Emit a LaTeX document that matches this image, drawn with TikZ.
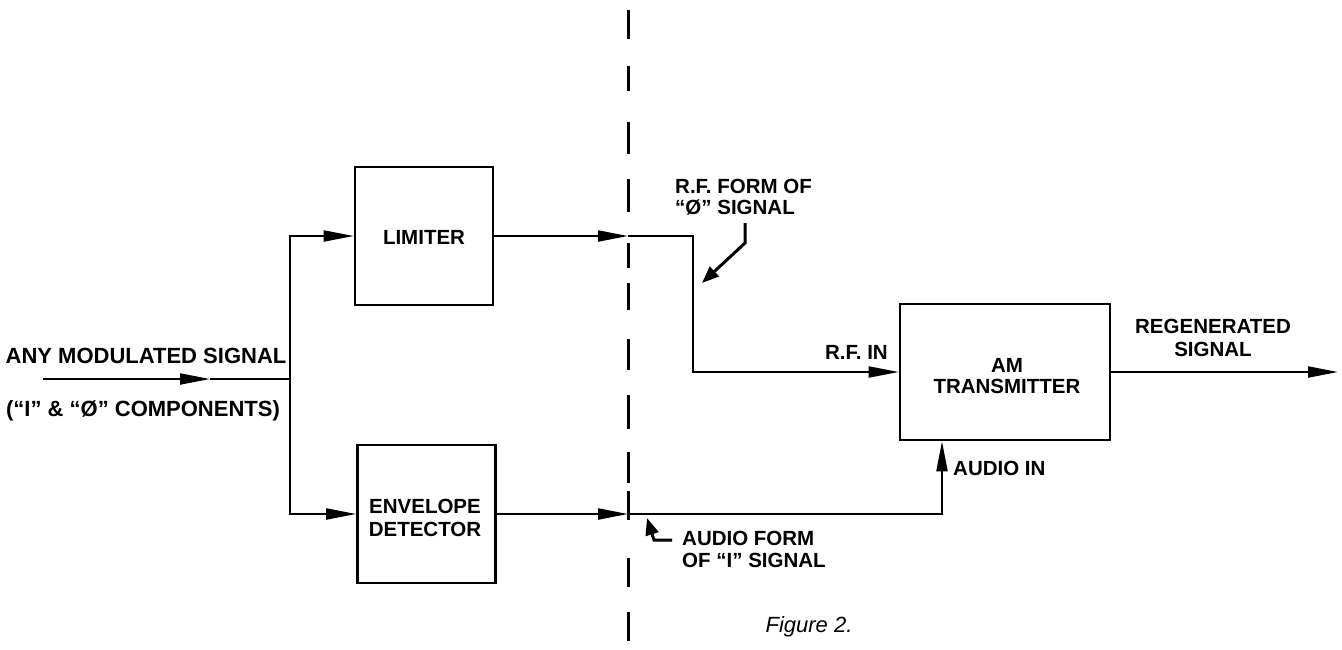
\documentclass[tikz,border=0pt]{standalone}
\usepackage{fontspec}
\setmainfont{Liberation Sans}
\usetikzlibrary{arrows.meta}
\begin{document}
\begin{tikzpicture}[x=1pt,y=-1pt,
  box/.style={draw, line width=2.6pt, minimum width=138pt, minimum height=138pt, inner sep=0pt},
  wire/.style={line width=2pt},
  arr/.style={-{Triangle[length=30pt,width=11pt]}},
  ptr/.style={line width=3pt, -{Triangle[length=17pt,width=13pt]}},
  lbl/.style={font=\fontsize{20.5}{21.5}\selectfont\bfseries, inner sep=0pt},
  lblw/.style={font=\fontsize{22}{23}\selectfont\bfseries, inner sep=0pt},
  fig/.style={font=\fontsize{22}{24}\selectfont\itshape, inner sep=0pt}]
\fill[white] (0,0) rectangle (1342,649);
\useasboundingbox (0,0) rectangle (1342,649);

% boxes
\node[box] (lim) at (424,236) {};
\node[box] (env) at (426.5,514) {};
\node[box, minimum width=210pt, minimum height=136pt] (am) at (1005,372) {};

% box texts
\node[lbl, anchor=base] (limt) at (424,244) {LIMITER};
\node[lbl, anchor=base] (envt1) at (425,513) {ENVELOPE};
\node[lbl, anchor=base] (envt2) at (425,536) {DETECTOR};
\node[lbl, anchor=base] (amt1) at (1007,372) {AM};
\node[lbl, anchor=base] (amt2) at (1007,393) {TRANSMITTER};

% dashed separator
\coordinate (dtop) at (628,10);
\coordinate (dbot) at (628,641);
\draw[line width=3pt, dash pattern=on 29pt off 27pt on 25pt off 31pt on 32pt off 25pt on 33pt off 31pt on 25pt off 15pt on 27pt off 29pt on 31pt off 25pt on 34pt off 23pt on 31pt off 8pt on 29pt off 38pt on 29pt off 25pt on 29pt off 50pt] (dtop) -- (dbot);

% input
\coordinate (in0) at (43,379);
\coordinate (inA) at (210,379);
\coordinate (j) at (290,379);
\draw[wire,arr] (in0) -- (inA);
\draw[wire] (inA) -- (j);
\draw[wire,arr] (j) |- (lim.west);
\draw[wire,arr] (j) |- (env.west);

% limiter path
\coordinate (c1) at (628,236);
\coordinate (rfk) at (693,236);
\draw[wire,arr] (lim.east) -- (c1);
\draw[wire,arr] (c1) -- (rfk) |- (am.west);

% envelope path
\coordinate (c2) at (628,514);
\coordinate (ai) at (942,514);
\draw[wire,arr] (env.east) -- (c2);
\draw[wire,arr] (c2) -- (ai) -- (ai |- am.south);

% output
\coordinate (out) at (1338,372);
\draw[wire,arr] (am.east) -- (out);

% pointers
\coordinate (p1a) at (745,223);
\coordinate (p1b) at (745,243);
\coordinate (p1c) at (702,283);
\draw[ptr] (p1a) -- (p1b) -- (p1c);
\coordinate (p2a) at (672,540);
\coordinate (p2b) at (654,540);
\coordinate (p2c) at (647,518);
\draw[ptr] (p2a) -- (p2b) -- (p2c);

% labels
\node[lblw, anchor=base] (t1) at (146,363) {ANY MODULATED SIGNAL};
\node[lblw, anchor=base] (t2) at (143,416) {(“I” \& “Ø” COMPONENTS)};
\node[lbl, anchor=base west] (rf1) at (675,193) {R.F. FORM OF};
\node[lbl, anchor=base west] (rf2) at (675,214) {“Ø” SIGNAL};
\node[lbl, anchor=base east] (rfin) at (888,359) {R.F. IN};
\node[lbl, anchor=base west] (audin) at (953,475) {AUDIO IN};
\node[lbl, anchor=base west] (af1) at (682,545) {AUDIO FORM};
\node[lbl, anchor=base west] (af2) at (682,567) {OF “I” SIGNAL};
\node[lbl, anchor=base] (rg1) at (1213,333) {REGENERATED};
\node[lbl, anchor=base] (rg2) at (1213,356) {SIGNAL};
\node[fig, anchor=base] (figt) at (809,632) {Figure 2.};
\end{tikzpicture}
\end{document}
